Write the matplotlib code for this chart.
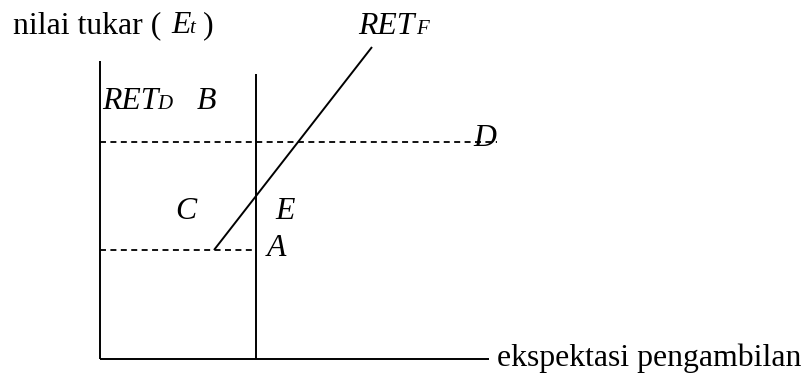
import matplotlib
matplotlib.use("Agg")
import matplotlib.pyplot as plt

# Diagram geometry (pixel-like units, origin at axes corner, y upward)
y_axis_top = 298
x_axis_end = 389
vline_x = 156
vline_top = 285
upper_level = 217      # RET_D level (dashed)
upper_dash_end = 397
lower_level = 109      # level at A (dashed)
retf_x = [114, 272]
retf_y = [109, 312]

main_label_x = "ekspektasi pengambilan"
main_label_y = "nilai tukar ( "
point_labels = ["B", "C", "D", "E", "A"]
point_pos = [(97, 250), (75, 140), (373, 213), (175, 140), (167, 103)]

plt.rcParams['lines.scale_dashes'] = False
fig = plt.figure(figsize=(8.07, 3.74), dpi=100)
ax = fig.add_axes([0, 0, 1, 1])
ax.set_xlim(-100, 707)
ax.set_ylim(-15, 359)
ax.axis('off')

lw = 1.4
dash = (0, (4.3, 3.2))
ax.plot([0, 0], [0, y_axis_top], color='black', lw=lw, solid_capstyle='butt')
ax.plot([0, x_axis_end], [0, 0], color='black', lw=lw, solid_capstyle='butt')
ax.plot([vline_x, vline_x], [0, vline_top], color='black', lw=lw, solid_capstyle='butt')
ax.plot([0, upper_dash_end], [upper_level, upper_level], color='black', lw=1.3,
        linestyle=dash, dash_capstyle='butt')
ax.plot([0, vline_x], [lower_level, lower_level], color='black', lw=1.3,
        linestyle=dash, dash_capstyle='butt')
ax.plot(retf_x, retf_y, color='black', lw=lw, solid_capstyle='butt')

fs = 22.9
sfs = 15
serif = 'Liberation Serif'
ax.text(-87, 326, main_label_y, fontsize=fs, family=serif, va='baseline', ha='left')
ax.text(71, 326, "E", fontsize=fs, family=serif, style='italic', va='baseline', ha='left')
ax.text(89, 326, "t", fontsize=sfs, family=serif, style='italic', va='baseline', ha='left')
ax.text(103, 326, ")", fontsize=fs, family=serif, va='baseline', ha='left')

ax.text(258, 325, "RET", fontsize=fs, family=serif, style='italic', va='baseline', ha='left')
ax.text(316, 325, "F", fontsize=sfs, family=serif, style='italic', va='baseline', ha='left')

ax.text(2, 250, "RET", fontsize=fs, family=serif, style='italic', va='baseline', ha='left')
ax.text(57, 250, "D", fontsize=sfs, family=serif, style='italic', va='baseline', ha='left')

for lab, (px, py) in zip(point_labels, point_pos):
    ax.text(px, py, lab, fontsize=fs, family=serif, style='italic', va='baseline', ha='left')

ax.text(397, -7, main_label_x, fontsize=fs, family=serif, va='baseline', ha='left')

fig.savefig("out.png", dpi=100)
